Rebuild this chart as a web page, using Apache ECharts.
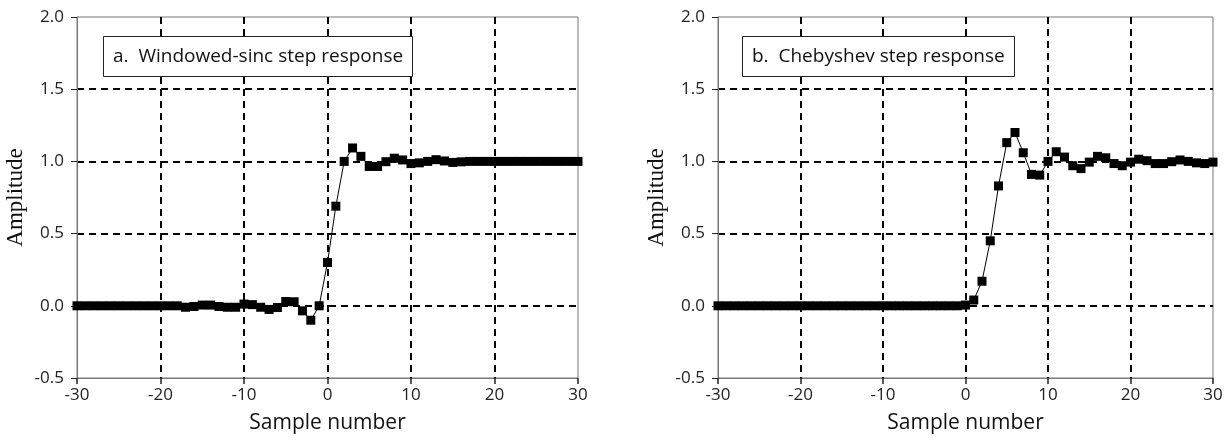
<!DOCTYPE html>
<html>
<head>
<meta charset="utf-8">
<script src="https://cdn.jsdelivr.net/npm/echarts@6/dist/echarts.min.js"></script>
<style>
html,body{margin:0;padding:0;background:#fff;}
#c{width:1230px;height:443px;}
</style>
</head>
<body>
<div id="c"></div>
<script>
// Sample numbers
const samples = [];
for (let n = -30; n <= 30; n++) samples.push(n);

// a. Windowed-sinc step response (n = -30 .. 30)
const sincStep = [
  0,0,0,0,0,0,0,0,0,0,0,0,0,
  -0.01,-0.005,0.005,0.005,-0.005,-0.01,-0.01,0.012,0.008,-0.01,-0.025,-0.012,
  0.03,0.028,-0.035,-0.1,0.0,
  0.30,0.69,1.0,1.093,1.035,0.965,0.965,0.998,1.022,1.01,0.985,0.99,1.0,1.012,1.003,0.993,0.997,
  1,1,1,1,1,1,1,1,1,1,1,1,1,1
];

// b. Chebyshev step response (n = -30 .. 30)
const chebyStep = [
  0,0,0,0,0,0,0,0,0,0,0,0,0,0,0,0,0,0,0,0,0,0,0,0,0,0,0,0,0,0,
  0.005,0.04,0.17,0.45,0.83,1.13,1.2,1.06,0.91,0.905,1.0,1.067,1.03,0.97,0.95,0.995,
  1.035,1.025,0.985,0.97,0.995,1.015,1.005,0.985,0.985,0.998,1.01,1.0,0.99,0.985,0.995
];

const titles = ['a.  Windowed-sinc step response', 'b.  Chebyshev step response'];
const xTicks = { min: -30, max: 30, interval: 10 };
const yTicks = { min: -0.5, max: 2.0, interval: 0.5 };
const xName = 'Sample number';
const yName = 'Amplitude';

const chart = echarts.init(document.getElementById('c'), null, { renderer: 'canvas' });

const sansFont = '"Open Sans", "Noto Sans", sans-serif';

function xAxisCfg(gi) {
  return {
    type: 'value', gridIndex: gi,
    min: xTicks.min, max: xTicks.max, interval: xTicks.interval,
    name: xName, nameLocation: 'middle', nameGap: 35,
    nameTextStyle: { fontFamily: sansFont, fontSize: 21, color: '#111' },
    axisLine: { show: true, onZero: false, lineStyle: { color: '#777', width: 1 } },
    axisTick: { show: true, length: 6, lineStyle: { color: '#222', width: 1.5 } },
    axisLabel: { fontFamily: sansFont, fontSize: 17, color: '#222', margin: 9 },
    splitLine: { show: true, showMinLine: false, showMaxLine: false,
      lineStyle: { color: '#000', width: 2, type: [7, 5] } }
  };
}
function yAxisCfg(gi) {
  return {
    type: 'value', gridIndex: gi,
    min: yTicks.min, max: yTicks.max, interval: yTicks.interval,
    name: yName, nameLocation: 'middle', nameGap: 50, nameRotate: 90,
    nameTextStyle: { fontFamily: '"Liberation Serif", "DejaVu Serif", serif', fontSize: 23, color: '#111' },
    axisLine: { show: true, onZero: false, lineStyle: { color: '#777', width: 1 } },
    axisTick: { show: true, length: 6, lineStyle: { color: '#222', width: 1 } },
    axisLabel: { fontFamily: sansFont, fontSize: 17, color: '#222', margin: 13,
      formatter: v => v.toFixed(1) },
    splitLine: { show: true, showMinLine: false, showMaxLine: false,
      lineStyle: { color: '#000', width: 2, type: [7, 5] } }
  };
}

function seriesCfg(gi, vals) {
  return {
    type: 'line', xAxisIndex: gi, yAxisIndex: gi,
    data: samples.map((n, i) => [n, vals[i]]),
    symbol: 'rect', symbolSize: 9,
    itemStyle: { color: '#000' },
    lineStyle: { color: '#000', width: 1 },
    animation: false, z: 5
  };
}

const titleCfg = (i, left) => ({
  text: titles[i], left: left, top: 36,
  padding: [10, 10, 9, 10],
  borderColor: '#222', borderWidth: 1, backgroundColor: '#fff',
  textStyle: { fontFamily: sansFont, fontSize: 19, fontWeight: 'normal', color: '#111', lineHeight: 22 },
  z: 100
});

chart.setOption({
  animation: false,
  backgroundColor: '#fff',
  title: [titleCfg(0, 103), titleCfg(1, 742)],
  grid: [
    { left: 77, right: 652, top: 17, bottom: 65, show: true, borderColor: '#777', borderWidth: 1, backgroundColor: 'transparent' },
    { left: 718, right: 17, top: 17, bottom: 65, show: true, borderColor: '#777', borderWidth: 1, backgroundColor: 'transparent' }
  ],
  xAxis: [xAxisCfg(0), xAxisCfg(1)],
  yAxis: [yAxisCfg(0), yAxisCfg(1)],
  series: [seriesCfg(0, sincStep), seriesCfg(1, chebyStep)]
});
</script>
</body>
</html>
